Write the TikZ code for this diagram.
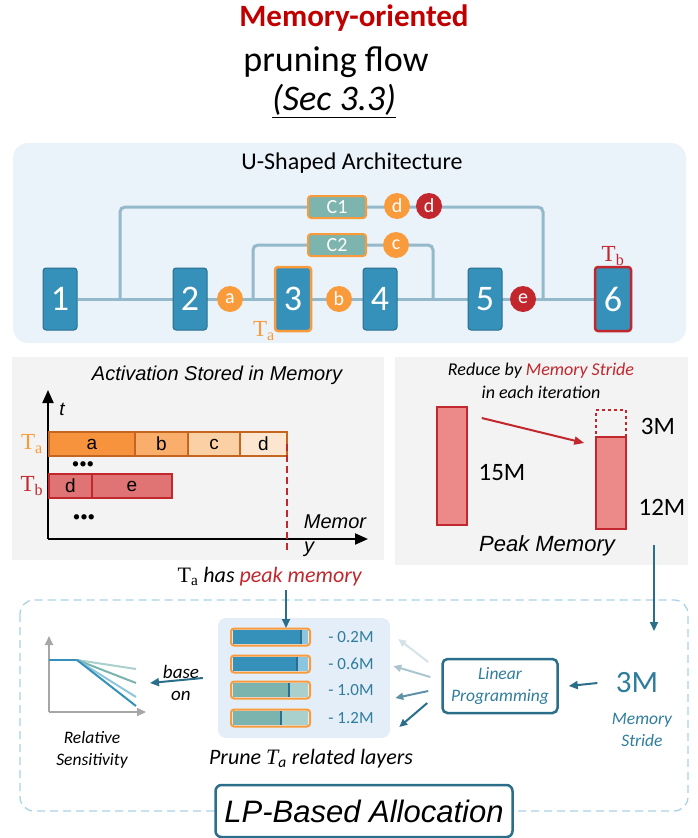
\documentclass[tikz,border=0pt]{standalone}
\usepackage{fontspec}
\setmainfont{Carlito}
\newfontfamily\arialfont{Liberation Sans}
\newfontfamily\serfont{Liberation Serif}
\usetikzlibrary{arrows.meta,positioning}

\definecolor{titlered}{HTML}{C00000}
\definecolor{blkblue}{HTML}{3591BA}
\definecolor{blkedge}{HTML}{2A6F8E}
\definecolor{wirecol}{HTML}{94B9CA}
\definecolor{actorange}{HTML}{F99B3B}
\definecolor{actred}{HTML}{C1272D}
\definecolor{cfill}{HTML}{7DB4AE}
\definecolor{panelblue}{HTML}{EAF2FA}
\definecolor{panelgray}{HTML}{F3F3F3}
\definecolor{tealtext}{HTML}{2F7D9C}
\definecolor{darkteal}{HTML}{2B6E8A}
\definecolor{dashblue}{HTML}{A9D3E5}
\definecolor{segbrown}{HTML}{C4661F}
\definecolor{sega}{HTML}{F7933C}
\definecolor{segb}{HTML}{F9AE6C}
\definecolor{segc}{HTML}{FCD0A5}
\definecolor{segd}{HTML}{FDE6CF}
\definecolor{tbfill}{HTML}{E07474}
\definecolor{barpink}{HTML}{EC8A8A}
\definecolor{barlight}{HTML}{8EC5DE}
\definecolor{tealbar}{HTML}{7BB3AE}
\definecolor{tealbarlt}{HTML}{A9D0CC}
\definecolor{pruneblue}{HTML}{E4EEF8}
\definecolor{axisgray}{HTML}{A6A6A6}

\newcommand{\setfs}[2]{\fontsize{#1}{#2}\selectfont}
\newcommand{\Tsub}[1]{{\serfont T\textsubscript{#1}}}

\pgfdeclarelayer{back}
\pgfdeclarelayer{wires}
\pgfsetlayers{back,wires,main}

\tikzset{
	layer/.style={draw=blkedge, fill=blkblue, rounded corners=3pt, line width=1pt,
		minimum width=34pt, minimum height=62pt, text=white, font=\setfs{36}{36}},
	act/.style={circle, fill=actorange, text=white, minimum size=26pt, inner sep=0pt,
		font=\setfs{20}{20}},
	skipbox/.style={draw=actorange, fill=cfill, line width=2pt, rounded corners=3pt,
		minimum width=58pt, minimum height=22pt, inner sep=0pt, text=white, font=\setfs{20}{20}},
	wire/.style={draw=wirecol, line width=3pt, rounded corners=5pt},
	seg/.style={draw=segbrown, line width=1.5pt, minimum height=24pt, inner sep=0pt,
		outer sep=0pt, font=\arialfont\setfs{19}{19}},
	tbseg/.style={seg, draw=actred, fill=tbfill},
	membar/.style={draw=actred, fill=barpink, line width=1.5pt, minimum width=30pt,
		inner sep=0pt},
	flow/.style={draw=darkteal, line width=2pt, -{Triangle[length=9pt,width=8pt]}},
	fan/.style={line width=2pt, -{Triangle[length=8pt,width=7pt]}},
	note/.style={font=\itshape\setfs{17.5}{22}, align=center},
	dots/.style={inner sep=0pt, font=\setfs{15}{15}}
}

\begin{document}
\begin{tikzpicture}[x=1pt,y=-1pt]
	\useasboundingbox (0,0) rectangle (697,838);

	% heading
	\node[text=titlered, font=\bfseries\setfs{31}{31}] (head1) at (354,18) {Memory-oriented};
	\node[font=\setfs{36}{36}] (head2) at (336,62) {pruning flow};
	\node[font=\itshape\setfs{36}{36}] (head3) at (334,101) {\underline{(Sec 3.3)}};

	% U-shaped network
	\begin{pgfonlayer}{back}
		\fill[panelblue, rounded corners=15pt] (13,143) rectangle (686,343);
		\fill[panelgray] (12,357) rectangle (384,560);
		\fill[panelgray] (395,357) rectangle (688,565);
	\end{pgfonlayer}
	\node[font=\setfs{24}{24}] (arch) at (352,163) {U-Shaped Architecture};

	\node[layer] (b1) at (60,299) {1};
	\node[layer] (b2) at (190,299) {2};
	\node[layer, draw=actorange, line width=2.5pt, minimum width=36pt, minimum height=64pt] (b3) at (293,299) {3};
	\node[layer] (b4) at (380,299) {4};
	\node[layer] (b5) at (485,299) {5};
	\node[layer, draw=actred, line width=2.5pt, minimum width=36pt, minimum height=64pt] (b6) at (613,299) {6};

	\node[act] (xa) at (230,299) {a};
	\node[act] (xb) at (339,299) {b};
	\node[act, fill=actred] (xe) at (523,299) {e};
	\node[skipbox] (c1) at (337,207) {C1};
	\node[skipbox] (c2) at (337,245) {C2};
	\node[act] (xd) at (397,206) {d};
	\node[act, fill=actred] (xdd) at (429,206) {d};
	\node[act] (xc) at (396,245) {c};

	\node[text=actorange, font=\setfs{23}{23}] (ta) at (264,331) {\Tsub{a}};
	\node[text=actred, font=\setfs{23}{23}] (tb) at (613,256) {\Tsub{b}};

	\coordinate (jl1) at (120,299);
	\coordinate (jr1) at (543,299);
	\coordinate (jl2) at (253,299);
	\coordinate (jr2) at (433,299);
	\begin{pgfonlayer}{wires}
		\draw[wire] (b1) -- (b6);
		\draw[wire] (jl1) |- (c1) -| (jr1);
		\draw[wire] (jl2) |- (c2) -| (jr2);
	\end{pgfonlayer}

	% activation memory chart
	\node[font=\arialfont\itshape\setfs{20}{20}] (acttitle) at (217,375) {Activation Stored in Memory};
	\coordinate (o) at (48,539);
	\coordinate (tup) at (48,390);
	\coordinate (yright) at (368,539);
	\draw[line width=2pt, -{Triangle[length=13pt,width=11pt]}] (o) -- (tup);
	\draw[line width=2pt, -{Triangle[length=13pt,width=11pt]}] (o) -- (yright);
	\node[font=\arialfont\itshape\setfs{19}{19}] (tlab) at (62,409) {t};
	\node[font=\arialfont\itshape\setfs{20}{20}] (memlab) at (335,522) {Memor};
	\node[font=\arialfont\itshape\setfs{20}{20}] (ylab) at (309,549) {y};

	\node[seg, fill=sega, minimum width=86pt, anchor=west] (sa) at (49,444) {a};
	\node[seg, fill=segb, minimum width=53pt, right=0pt of sa] (sb) {b};
	\node[seg, fill=segc, minimum width=52pt, right=0pt of sb] (sc) {c};
	\node[seg, fill=segd, minimum width=47pt, right=0pt of sc] (sd) {d};
	\node[tbseg, minimum width=43pt, anchor=west] (sbd) at (49,486) {d};
	\node[tbseg, minimum width=80pt, right=0pt of sbd] (sbe) {e};
	\node[text=actorange, font=\setfs{23}{23}] (tachart) at (32,444) {\Tsub{a}};
	\node[text=actred, font=\setfs{23}{23}] (tbchart) at (32,486) {\Tsub{b}};
	\node[dots] (dots1) at (83,465) {\textbullet\textbullet\textbullet};
	\node[dots] (dots2) at (84,518) {\textbullet\textbullet\textbullet};
	\coordinate (peakfoot) at (287,552);
	\draw[actred, line width=1.5pt, dash pattern=on 7pt off 4pt] (sd.east) -- (peakfoot);

	\node[font=\setfs{22}{22}] (peak) at (270,577) {\Tsub{a} \textit{has} \textcolor{actred}{\textit{peak memory}}};

	% peak memory bars
	\node[note, font=\itshape\setfs{18}{23}] (reduce) at (541,381) {Reduce by \textcolor{actred}{Memory Stride}\\in each iteration};
	\node[membar, minimum height=118pt] (m15) at (452,466) {};
	\node[membar, minimum height=92pt] (m12) at (611,483) {};
	\node[membar, fill=none, dashed, minimum height=27pt] (m3) at (611,423.5) {};
	\draw[actred, line width=2pt, -{Triangle[length=10pt,width=8pt]}] ([shift={(14,-48)}]m15.east) -- ([shift={(-11,-40)}]m12.west);
	\node[font=\setfs{25}{25}] (l15) at (502,473) {15M};
	\node[font=\setfs{25}{25}] (l3) at (658,426) {3M};
	\node[font=\setfs{25}{25}] (l12) at (662,507) {12M};
	\node[font=\arialfont\itshape\setfs{22}{22}] (peaklab) at (547,546) {Peak Memory};

	% LP-based allocation
	\draw[dashblue, line width=1.3pt, dash pattern=on 8pt off 5pt, rounded corners=14pt] (20,600) rectangle (688,811);
	\node[draw=darkteal, fill=white, line width=2.5pt, rounded corners=6pt, minimum width=297pt,
		minimum height=52pt, font=\arialfont\itshape\setfs{31}{31}] (lpbased) at (364,811) {LP-Based Allocation};

	\begin{pgfonlayer}{back}
		\node[fill=pruneblue, rounded corners=8pt, minimum width=172pt, minimum height=120pt] (prunebg) at (304,678) {};
	\end{pgfonlayer}
	\foreach \y/\s/\cd/\cl/\amt [count=\i] in {637/301/blkblue/barlight/0.2, 664/297/blkblue/barlight/0.6,
		690/289/tealbar/tealbarlt/1.0, 718/281/tealbar/tealbarlt/1.2} {
		\fill[\cd] (233,\y-7) rectangle (\s,\y+7);
		\fill[\cl] (\s,\y-7) rectangle (308,\y+7);
		\draw[blkedge, line width=1.5pt] (\s,\y-7) -- (\s,\y+7);
		\draw[actorange, line width=2pt, rounded corners=3pt] (231,\y-8.5) rectangle (310,\y+8.5);
		\node[text=tealtext, font=\setfs{17}{17}] (amt\i) at (351,\y) {- \amt M};
	}
	\node[font=\itshape\setfs{22}{22}] (prunelab) at (311,759) {Prune {\serfont\itshape T}\textsubscript{\textit{a}} related layers};
	\coordinate (pin) at (286,628);
	\draw[flow] (peak.south -| pin) -- (pin);

	% sensitivity sketch
	\coordinate (so) at (49,712);
	\coordinate (sknee) at (77,660);
	\draw[axisgray, line width=2pt, -{Triangle[length=9pt,width=8pt]}] (so) -- (49,636);
	\draw[axisgray, line width=2pt, -{Triangle[length=9pt,width=8pt]}] (so) -- (146,712);
	\draw[blkblue, line width=2pt] (49,660) -- (sknee);
	\draw[tealbarlt, line width=2pt] (sknee) -- (136,669);
	\draw[tealbar, line width=2pt] (sknee) -- (136,683);
	\draw[barlight, line width=2pt] (sknee) -- (136,697);
	\draw[blkblue, line width=2pt] (sknee) -- (136,706);
	\node[note] (sens) at (92,750) {Relative\\Sensitivity};
	\node[note, font=\itshape\setfs{19}{22}] (baseon) at (181,683) {base\\on};
	\coordinate (sensin) at (150,683);
	\draw[flow] ([xshift=-15pt]prunebg.west) -- (sensin);

	% linear programming
	\node[draw=darkteal, line width=2.5pt, rounded corners=5pt, minimum width=115pt, minimum height=54pt,
		text=tealtext, note] (lp) at (500,686) {Linear\\Programming};
	\node[text=tealtext, font=\setfs{31}{31}] (stride) at (637,683) {3M};
	\node[note, text=tealtext] (stridelab) at (642,730) {Memory\\Stride};
	\draw[flow] ([xshift=-15pt]stride.west) -- ([xshift=10pt]lp.east);
	\coordinate (drop) at (654,545);
	\coordinate (dropin) at (654,631);
	\draw[flow] (drop) -- (dropin);

	\draw[fan, draw=darkteal!20] ([shift={(-13,-24)}]lp.west) -- ([shift={(-43,-47)}]lp.west);
	\draw[fan, draw=darkteal!40] ([shift={(-11,-9)}]lp.west) -- ([shift={(-48,-20)}]lp.west);
	\draw[fan, draw=darkteal!75] ([shift={(-13,5)}]lp.west) -- ([shift={(-46,12)}]lp.west);
	\draw[fan, draw=darkteal] ([shift={(-14,17)}]lp.west) -- ([shift={(-42,41)}]lp.west);
\end{tikzpicture}
\end{document}
